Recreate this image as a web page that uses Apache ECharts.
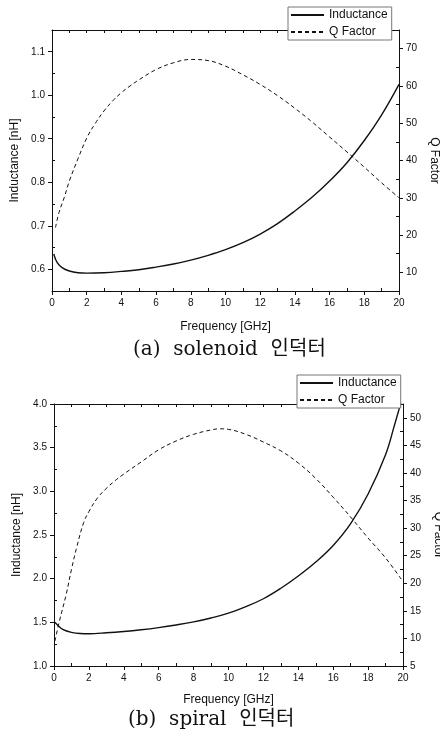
<!DOCTYPE html>
<html>
<head>
<meta charset="utf-8">
<script src="https://cdn.jsdelivr.net/npm/echarts@6/dist/echarts.min.js"></script>
<style>
  html, body { margin: 0; padding: 0; background: #fff; }
  #main { width: 440px; height: 741px; }
</style>
</head>
<body>
<div id="main"></div>
<script>
// (a) solenoid 인덕터
var solFreqL = [0.1, 0.3, 0.6, 1.0, 1.5, 2.0, 3.0, 4.0, 5.0, 6.0, 7.0, 8.0, 9.0, 10.0, 11.0, 12.0, 13.0, 14.0, 15.0, 16.0, 17.0, 18.0, 19.0, 20.0];
var solInductance = [0.635, 0.615, 0.603, 0.596, 0.592, 0.591, 0.592, 0.595, 0.599, 0.605, 0.612, 0.621, 0.632, 0.645, 0.661, 0.681, 0.705, 0.734, 0.766, 0.803, 0.845, 0.896, 0.955, 1.025];
var solFreqQ = [0.2, 0.4, 0.7, 1.0, 1.5, 2.0, 2.5, 3.0, 3.5, 4.0, 4.5, 5.0, 6.0, 7.0, 8.0, 9.0, 10.0, 11.0, 12.0, 13.0, 14.0, 15.0, 16.0, 17.0, 18.0, 19.0, 20.0];
var solQ = [22, 26, 30, 34.5, 40.5, 46, 50, 53.3, 56, 58.2, 60, 61.6, 64.4, 66.2, 67.1, 66.8, 65.3, 63, 60.4, 57.4, 54, 50.3, 46.3, 42.3, 38.2, 34, 30];

// (b) spiral 인덕터
var spiFreqL = [0.05, 0.2, 0.5, 1.0, 1.5, 2.0, 3.0, 4.0, 5.0, 6.0, 7.0, 8.0, 9.0, 10.0, 11.0, 12.0, 13.0, 14.0, 15.0, 16.0, 17.0, 18.0, 19.0, 19.5, 20.0];
var spiInductance = [1.50, 1.47, 1.42, 1.385, 1.372, 1.37, 1.38, 1.395, 1.415, 1.44, 1.47, 1.505, 1.55, 1.605, 1.68, 1.77, 1.89, 2.03, 2.19, 2.38, 2.63, 2.97, 3.42, 3.75, 4.1];
var spiFreqQ = [0.05, 0.3, 0.7, 1.0, 1.3, 1.7, 2.0, 2.5, 3.0, 3.5, 4.0, 5.0, 6.0, 7.0, 8.0, 9.0, 9.5, 10.0, 11.0, 12.0, 13.0, 14.0, 15.0, 16.0, 17.0, 18.0, 19.0, 20.0];
var spiQ = [9.5, 13, 18, 22.5, 26.5, 31, 33, 35.5, 37.2, 38.6, 39.8, 42, 44.2, 45.8, 47, 47.8, 48, 47.9, 47, 45.6, 44, 41.8, 39, 35.6, 32, 28.2, 24.6, 20.3];

// tick labels
var freqTicks = [0, 2, 4, 6, 8, 10, 12, 14, 16, 18, 20];
var freqMinor = [1, 3, 5, 7, 9, 11, 13, 15, 17, 19];
var solLTicks = [0.6, 0.7, 0.8, 0.9, 1.0, 1.1];
var solLMinor = [0.55, 0.65, 0.75, 0.85, 0.95, 1.05, 1.15];
var solQTicks = [10, 20, 30, 40, 50, 60, 70];
var solQMinor = [5, 15, 25, 35, 45, 55, 65, 75];
var spiLTicks = [1.0, 1.5, 2.0, 2.5, 3.0, 3.5, 4.0];
var spiLMinor = [1.25, 1.75, 2.25, 2.75, 3.25, 3.75];
var spiQTicks = [5, 10, 15, 20, 25, 30, 35, 40, 45, 50];
var spiQMinor = [7.5, 12.5, 17.5, 22.5, 27.5, 32.5, 37.5, 42.5, 47.5, 52.5];

var FONT = 'Liberation Sans, Arial, sans-serif';
var INK = '#111';

function pairs(xs, ys) {
    var out = [];
    for (var i = 0; i < xs.length; i++) out.push([xs[i], ys[i]]);
    return out;
}

// 주 눈금: 바깥쪽, 라벨 표시
function majorAxis(grid, pos, min, max, ticks, digits, name, nameGap, nameRotate) {
    return {
        type: 'value', gridIndex: grid, position: pos, min: min, max: max,
        name: name, nameLocation: 'middle', nameGap: nameGap, nameRotate: nameRotate,
        nameTextStyle: { fontFamily: FONT, fontSize: 12, color: INK },
        axisLine: { show: true, onZero: false, lineStyle: { color: INK, width: 1 } },
        axisTick: { show: true, inside: false, length: 4, customValues: ticks, lineStyle: { color: INK } },
        axisLabel: {
            show: true, customValues: ticks, margin: 7,
            fontFamily: FONT, fontSize: 10, color: INK,
            formatter: function (v) { return Number(v).toFixed(digits); }
        },
        splitLine: { show: false }
    };
}

// 보조 눈금: 안쪽, 라벨 없음
function minorAxis(grid, pos, min, max, ticks, showLine) {
    return {
        type: 'value', gridIndex: grid, position: pos, min: min, max: max,
        axisLine: { show: !!showLine, onZero: false, lineStyle: { color: INK, width: 1 } },
        axisTick: { show: true, inside: true, length: 3, customValues: ticks, lineStyle: { color: INK } },
        axisLabel: { show: false },
        splitLine: { show: false }
    };
}

function legendBox(left, top) {
    return {
        orient: 'vertical', left: left, top: top, padding: [2, 4, 2, 2], itemGap: 5,
        itemWidth: 33, itemHeight: 12, backgroundColor: '#fff', borderColor: '#777', borderWidth: 1,
        itemStyle: { opacity: 0 },
        textStyle: { fontFamily: FONT, fontSize: 12, color: INK },
        data: ['Inductance', 'Q Factor']
    };
}

var myChart = echarts.init(document.getElementById('main'));

var allFreq = freqTicks.concat(freqMinor);
var capFont = { fontFamily: "'DejaVu Serif', 'Noto Sans CJK KR', serif", fontSize: 20, fontWeight: 'normal', color: INK };

var option = {
    animation: false,
    backgroundColor: '#fff',
    title: [
        { text: '(a)  solenoid  인덕터', left: 133, top: 340, padding: 0, textStyle: capFont },
        { text: '(b)  spiral  인덕터', left: 128, top: 710, padding: 0, textStyle: capFont }
    ],
    grid: [
        { left: 52, right: 41, top: 30, height: 261, outerBoundsMode: 'none', containLabel: false },
        { left: 54, right: 37, top: 404, height: 262, outerBoundsMode: 'none', containLabel: false }
    ],
    legend: [legendBox(288, 7), legendBox(297, 375)],
    xAxis: [
        majorAxis(0, 'bottom', 0, 20, freqTicks, 0, 'Frequency [GHz]', 30, 0),
        minorAxis(0, 'bottom', 0, 20, freqMinor, false),
        minorAxis(0, 'top', 0, 20, allFreq, true),
        majorAxis(1, 'bottom', 0, 20, freqTicks, 0, 'Frequency [GHz]', 28, 0),
        minorAxis(1, 'bottom', 0, 20, freqMinor, false),
        minorAxis(1, 'top', 0, 20, allFreq, true)
    ],
    yAxis: [
        majorAxis(0, 'left', 0.55, 1.15, solLTicks, 1, 'Inductance [nH]', 30, 90),
        minorAxis(0, 'left', 0.55, 1.15, solLMinor, false),
        majorAxis(0, 'right', 5, 75, solQTicks, 0, 'Q Factor', 27, -90),
        minorAxis(0, 'right', 5, 75, solQMinor, false),
        majorAxis(1, 'left', 1.0, 4.0, spiLTicks, 1, 'Inductance [nH]', 31, 90),
        minorAxis(1, 'left', 1.0, 4.0, spiLMinor, false),
        majorAxis(1, 'right', 5, 52.5, spiQTicks, 0, 'Q Factor', 25, -90),
        minorAxis(1, 'right', 5, 52.5, spiQMinor, false)
    ],
    series: [
        { name: 'Inductance', type: 'line', xAxisIndex: 0, yAxisIndex: 0, smooth: 0.4, symbol: 'none',
          lineStyle: { color: INK, width: 1.4, type: 'solid' }, itemStyle: { color: INK },
          data: pairs(solFreqL, solInductance) },
        { name: 'Q Factor', type: 'line', xAxisIndex: 0, yAxisIndex: 2, smooth: 0.4, symbol: 'none',
          lineStyle: { color: INK, width: 1, type: [4, 3] }, itemStyle: { color: INK },
          data: pairs(solFreqQ, solQ) },
        { name: 'Inductance', type: 'line', xAxisIndex: 3, yAxisIndex: 4, smooth: 0.4, symbol: 'none',
          lineStyle: { color: INK, width: 1.4, type: 'solid' }, itemStyle: { color: INK },
          data: pairs(spiFreqL, spiInductance) },
        { name: 'Q Factor', type: 'line', xAxisIndex: 3, yAxisIndex: 6, smooth: 0.4, symbol: 'none',
          lineStyle: { color: INK, width: 1, type: [4, 3] }, itemStyle: { color: INK },
          data: pairs(spiFreqQ, spiQ) }
    ]
};

myChart.setOption(option);
</script>
</body>
</html>
